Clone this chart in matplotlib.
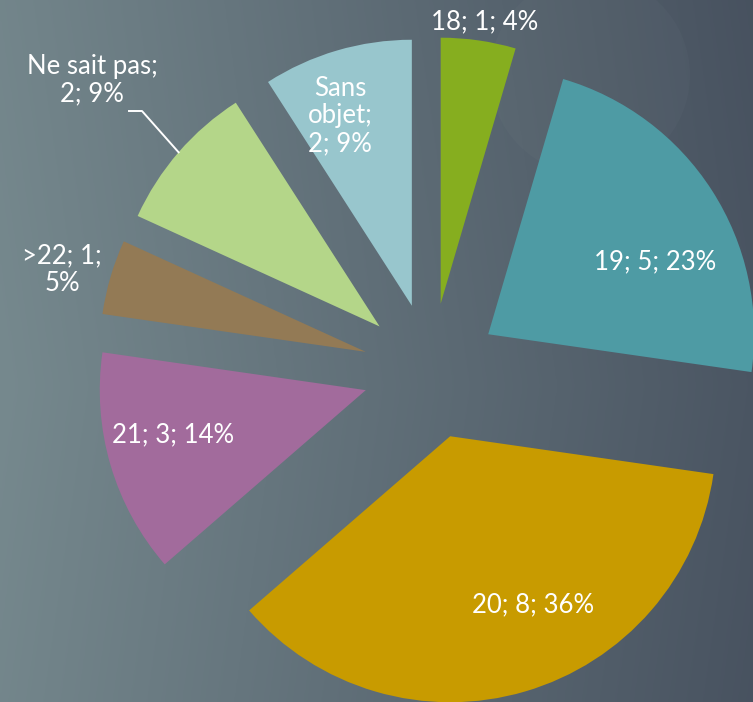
import numpy as np
import matplotlib
matplotlib.use("Agg")
import matplotlib.pyplot as plt
from matplotlib.patches import Circle

# ---- data ----
categories = ["18", "19", "20", "21", ">22", "Ne sait pas", "Sans objet"]
counts = [1, 5, 8, 3, 1, 2, 2]
percents = [4, 23, 36, 14, 5, 9, 9]
colors = ["#86ae1f", "#4e9ba4", "#c89b00", "#a26b9c", "#937a55", "#b4d689", "#98c6cd"]

# label texts (line breaks as in the reference)
label_texts = [
    f"{categories[0]}; {counts[0]}; {percents[0]}%",
    f"{categories[1]}; {counts[1]}; {percents[1]}%",
    f"{categories[2]}; {counts[2]}; {percents[2]}%",
    f"{categories[3]}; {counts[3]}; {percents[3]}%",
    f"{categories[4]}; {counts[4]};\n{percents[4]}%",
    f"{categories[5]};\n{counts[5]}; {percents[5]}%",
    "Sans\nobjet;\n" + f"{counts[6]}; {percents[6]}%",
]

W, H = 753, 702
fig = plt.figure(figsize=(W / 100, H / 100), dpi=100)
ax = fig.add_axes([0, 0, 1, 1])

# ---- background gradient ----
xs = np.linspace(0, 1, 300)
ys = np.linspace(0, 1, 300)
X, Y = np.meshgrid(xs, ys)
left = np.array([0x76, 0x89, 0x8e]) / 255
right = np.array([0x46, 0x50, 0x5e]) / 255
t = np.clip(X * 0.9 + 0.1 * np.abs(Y - 0.55) * 1.2, 0, 1)
img = left[None, None, :] * (1 - t[..., None]) + right[None, None, :] * t[..., None]
ax.imshow(img, extent=(0, W, 0, H), origin="upper", aspect="auto", zorder=0)
ax.add_patch(Circle((590, H - 75), 100, facecolor="white", alpha=0.018,
                    edgecolor="none", zorder=1))

# ---- pie ----
center = (431, H - 371)
radius = 266
expl = 68
wedges, _ = ax.pie(counts, colors=colors, startangle=90, counterclock=False,
                   radius=radius, center=center, explode=[expl] * len(counts),
                   wedgeprops=dict(linewidth=0, zorder=2))
for w in wedges:
    w.set_zorder(2)

ax.set_xlim(0, W)
ax.set_ylim(0, H)
ax.set_aspect("equal")
ax.axis("off")

font = dict(color="white", fontsize=18.5, family=["Lato", "DejaVu Sans"],
            fontweight="normal", ha="center", va="center", zorder=5, linespacing=1.12)

# label positions (image pixel coordinates, y downwards)
label_pos = [(485, 22), (655, 262), (533, 605), (173, 435), (62, 270), (92, 80), (340, 116)]
for i, (txt, (lx, ly)) in enumerate(zip(label_texts, label_pos)):
    if i == 5:
        continue
    ax.text(lx, H - ly, txt, **font)

# "Ne sait pas" label with leader line to the wedge's outer arc
w = wedges[5]
thm = np.deg2rad(0.5 * (w.theta1 + w.theta2))
cx, cy = w.center
tip = (cx + radius * np.cos(thm), cy + radius * np.sin(thm))
lx, ly = label_pos[5]
ax.text(lx, H - ly, label_texts[5], **font)
ax.plot([129, 142, tip[0]], [H - 111, H - 111, tip[1]], color="white", lw=1.4, zorder=4)

fig.savefig("out.png", dpi=100)
